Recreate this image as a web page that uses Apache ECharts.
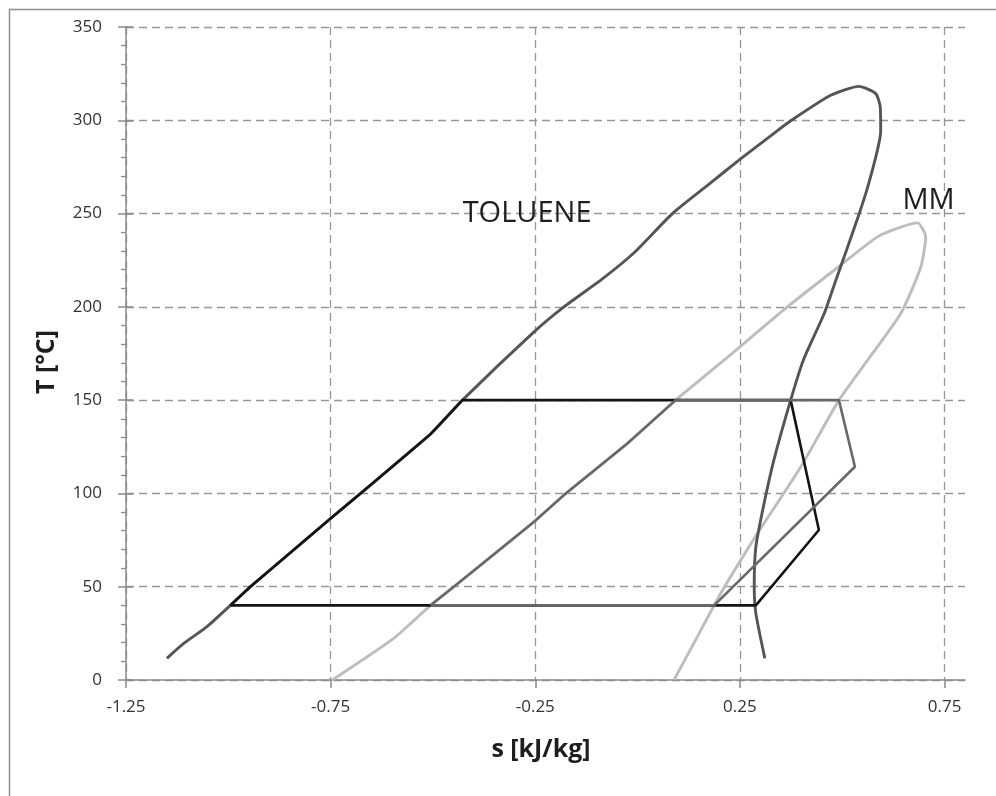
<!DOCTYPE html>
<html>
<head>
<meta charset="utf-8">
<script src="https://cdn.jsdelivr.net/npm/echarts@6/dist/echarts.min.js"></script>
<style>
html,body{margin:0;padding:0;background:#fff;}
#chart{width:996px;height:796px;}
</style>
</head>
<body>
<div id="chart"></div>
<script>
// ---- Data (s [kJ/kg], T [°C]) ----
const tolueneSatS = [-1.150, -1.109, -1.052, -0.995, -0.946, -0.750, -0.677, -0.505, -0.428, -0.253, -0.180, -0.086, -0.010, 0.085, 0.170, 0.250, 0.330, 0.376, 0.472, 0.541, 0.582, 0.593, 0.594, 0.586, 0.562, 0.541, 0.513, 0.484, 0.456, 0.405, 0.374, 0.333, 0.309, 0.289, 0.285, 0.289, 0.311];
const tolueneSatT = [11.6, 19.6, 28.6, 40, 50, 86.6, 100, 132, 150, 186.6, 200, 215, 228.7, 250, 265, 279, 292.5, 300, 313.4, 318.2, 314.3, 307, 294, 284, 264, 249.6, 232, 214, 196.4, 171.4, 150, 117.9, 94.6, 71.4, 50, 35.7, 11.6];

const mmSatS = [-0.746, -0.596, -0.506, -0.449, -0.253, -0.180, -0.025, 0.093, 0.211, 0.366, 0.480, 0.586, 0.643, 0.684, 0.704, 0.692, 0.643, 0.562, 0.492, 0.399, 0.293, 0.203, 0.146, 0.089];
const mmSatT = [0, 22.3, 40, 50, 84.8, 99.1, 126.8, 150, 171.4, 200, 219.6, 237.5, 242.7, 245, 237.5, 221.4, 196.4, 171.4, 150, 114.3, 78.6, 46.4, 23.2, 0];

const tolueneCycleS = [-0.995, -0.946, -0.750, -0.677, -0.505, -0.428, 0.374, 0.443, 0.289, -0.995];
const tolueneCycleT = [40, 50, 86.6, 100, 132, 150, 150, 80.4, 40, 40];

const mmCycleS = [-0.506, -0.449, -0.253, -0.180, -0.025, 0.093, 0.492, 0.531, 0.187, -0.506];
const mmCycleT = [40, 50, 84.8, 99.1, 126.8, 150, 150, 114.3, 40, 40];

const xTickValues = [-1.25, -0.75, -0.25, 0.25, 0.75];

const curveLabels = [
  {text: 'TOLUENE', s: -0.270, T: 250},
  {text: 'MM', s: 0.711, T: 257}
];

function pairs(xs, ys) { return xs.map((x, i) => [x, ys[i]]); }

const axisColor = '#8a8a8a';
const gridColor = '#969696';
const font = 'Open Sans, Liberation Sans, sans-serif';

const chart = echarts.init(document.getElementById('chart'), null, {renderer: 'canvas'});

const option = {
  backgroundColor: '#ffffff',
  animation: false,
  grid: {left: 126, right: 31, top: 27, bottom: 116, containLabel: false},
  xAxis: [{
    type: 'value',
    min: -1.25,
    max: 0.8,
    axisLine: {show: true, onZero: false, lineStyle: {color: axisColor, width: 1.5}},
    axisTick: {show: true, customValues: xTickValues, length: 8, lineStyle: {color: axisColor, width: 1.5}},
    axisLabel: {customValues: xTickValues, margin: 19, fontSize: 17, color: '#333', fontFamily: font,
      formatter: v => String(v)},
    splitLine: {show: true, lineStyle: {type: [8, 5], color: gridColor, width: 1.3}}
  }],
  yAxis: [{
    type: 'value',
    min: 0,
    max: 350,
    interval: 50,
    position: 'left',
    axisLine: {show: true, onZero: false, lineStyle: {color: axisColor, width: 1.5}},
    axisTick: {show: true, length: 8, lineStyle: {color: axisColor, width: 1.5}},
    minorTick: {show: true, splitNumber: 5, length: 5, lineStyle: {color: axisColor, width: 1.3}},
    axisLabel: {margin: 24, fontSize: 17, color: '#333', fontFamily: font},
    splitLine: {show: true, lineStyle: {type: [8, 5], color: gridColor, width: 1.3}}
  }, {
    type: 'value',
    min: 0,
    max: 350,
    interval: 50,
    position: 'left',
    offset: 0,
    axisLine: {show: false, onZero: false},
    axisTick: {show: true, inside: true, length: 7, lineStyle: {color: axisColor, width: 1.5}},
    axisLabel: {show: false},
    splitLine: {show: false}
  }],
  series: [
    {
      name: 'MM saturation', type: 'line', data: pairs(mmSatS, mmSatT),
      showSymbol: false, smooth: 0.2, lineStyle: {color: '#bdbdbd', width: 2.9}, z: 2
    },
    {
      name: 'Toluene saturation', type: 'line', data: pairs(tolueneSatS, tolueneSatT),
      showSymbol: false, smooth: 0.2, lineStyle: {color: '#555555', width: 2.9}, z: 3
    },
    {
      name: 'Toluene cycle', type: 'line', data: pairs(tolueneCycleS, tolueneCycleT),
      showSymbol: false, smooth: false, lineStyle: {color: '#141414', width: 2.6}, z: 4
    },
    {
      name: 'MM cycle', type: 'line', data: pairs(mmCycleS, mmCycleT),
      showSymbol: false, smooth: false, lineStyle: {color: '#686868', width: 2.6}, z: 5,
      markPoint: {
        symbol: 'circle', symbolSize: 0, silent: true,
        label: {show: true, position: 'inside', fontSize: 29, color: '#1e1e1e', fontFamily: font,
          formatter: p => p.name},
        data: curveLabels.map(l => ({name: l.text, coord: [l.s, l.T]}))
      }
    }
  ],
  graphic: [
    {type: 'rect', left: 7, top: 7, shape: {width: 1010, height: 788},
      style: {fill: 'none', stroke: '#8c8c8c', lineWidth: 1.5}, silent: true, z: -10},
    {type: 'text', x: 541, y: 750,
      style: {text: 's [kJ/kg]', font: 'bold 25px ' + font, fill: '#1e1e1e', align: 'center', verticalAlign: 'middle'}},
    {type: 'text', x: 47, y: 362, rotation: Math.PI / 2,
      style: {text: 'T [°C]', font: 'bold 25px ' + font, fill: '#1e1e1e', align: 'center', verticalAlign: 'middle'}}
  ]
};
chart.setOption(option);
</script>
</body>
</html>
